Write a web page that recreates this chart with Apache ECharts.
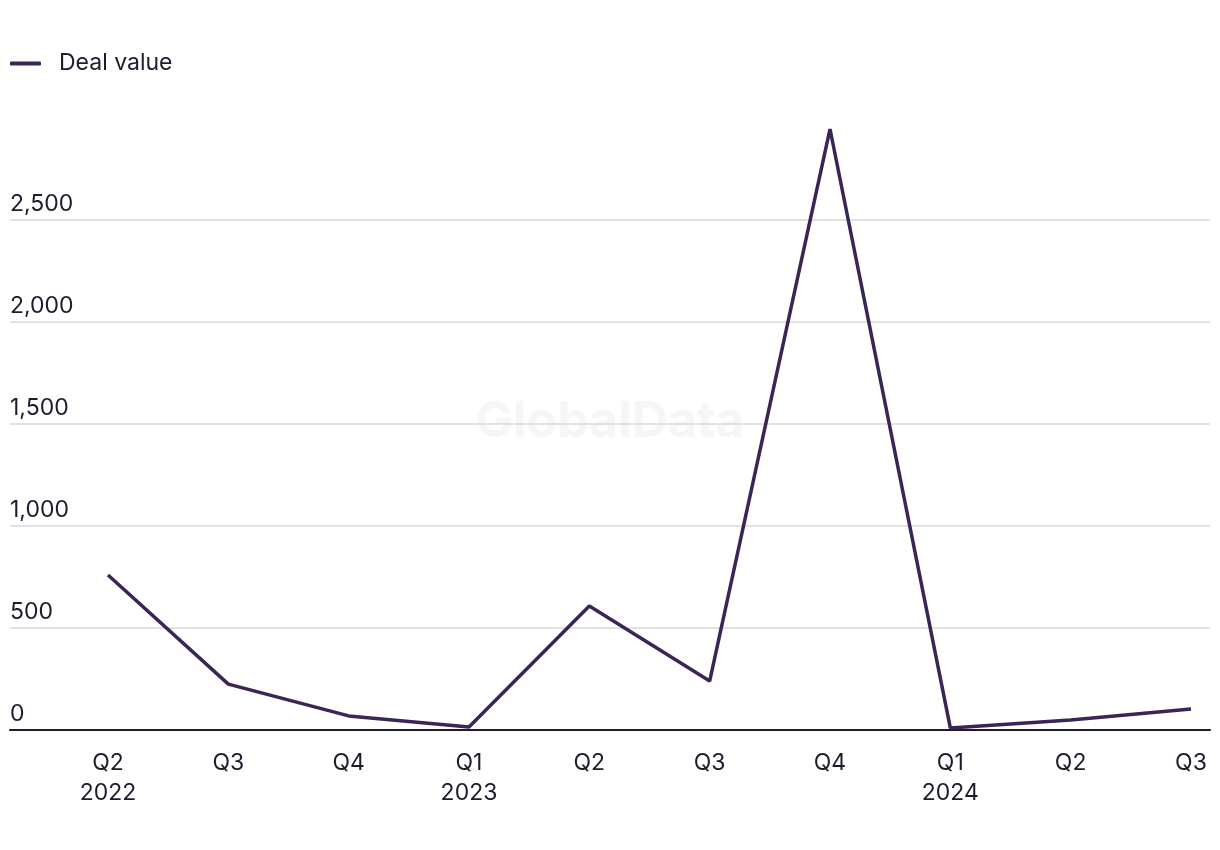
<!DOCTYPE html>
<html>
<head>
<meta charset="utf-8">
<script src="https://cdn.jsdelivr.net/npm/echarts@6/dist/echarts.min.js"></script>
<style>html,body{margin:0;padding:0;background:#fff}#c{width:1220px;height:850px}</style>
</head>
<body>
<div id="c"></div>
<script>
const categories = ['Q2\n2022','Q3','Q4','Q1\n2023','Q2','Q3','Q4','Q1\n2024','Q2','Q3'];
const dealValue = [760, 225, 69, 15, 608, 240, 2946, 10, 49, 103];
const yTicks = [0, 500, 1000, 1500, 2000, 2500];

const FONT = 'Inter';
const TEXT = '#1c1c2c';
const LINE = '#3a2556';
const chart = echarts.init(document.getElementById('c'));
chart.setOption({
  animation: false,
  textStyle: {fontFamily: FONT},
  legend: {
    left: 10, top: 52, padding: 0,
    data: [{name: 'Deal value', icon: 'roundRect'}],
    itemWidth: 31, itemHeight: 4,
    textStyle: {fontFamily: FONT, fontSize: 23, color: TEXT, padding: [0,0,0,13]}
  },
  graphic: [{
    type: 'text', left: 'center', top: 397, z: -1, silent: true,
    style: {text: 'GlobalData', font: 'bold 50px Inter', fill: '#f6f6f6'}
  }],
  grid: [
    {left: 10, right: 10, top: 220, bottom: 120},
    {left: 108, right: 29, top: 118, bottom: 120}
  ],
  xAxis: [
    {gridIndex: 0, type: 'value', min: 0, max: 1, show: true,
     axisLine: {show: true, onZero: false, lineStyle: {color: TEXT, width: 2}},
     axisTick: {show: false}, axisLabel: {show: false}, splitLine: {show: false}},
    {gridIndex: 1, type: 'category', data: categories, boundaryGap: false,
     axisLine: {show: false}, axisTick: {show: false}, splitLine: {show: false},
     axisLabel: {fontFamily: FONT, fontSize: 23, color: TEXT, lineHeight: 30, margin: 18, interval: 0}}
  ],
  yAxis: [
    {gridIndex: 0, type: 'value', min: yTicks[0], max: yTicks[yTicks.length-1], interval: 500,
     axisLine: {show: false}, axisTick: {show: false},
     splitLine: {show: true, lineStyle: {color: '#d9d9d9', width: 1.5}},
     axisLabel: {inside: true, margin: 0, verticalAlign: 'bottom', padding: [0,0,4,0],
       fontFamily: FONT, fontSize: 23, color: TEXT,
       formatter: v => v.toLocaleString('en-US')}},
    {gridIndex: 1, type: 'value', min: 0, max: 3000, show: false, splitLine: {show: false}}
  ],
  series: [{
    name: 'Deal value', type: 'line', xAxisIndex: 1, yAxisIndex: 1,
    data: dealValue, symbol: 'none', z: 5,
    lineStyle: {color: LINE, width: 3.5}, itemStyle: {color: LINE}
  }]
});
</script>
</body>
</html>
